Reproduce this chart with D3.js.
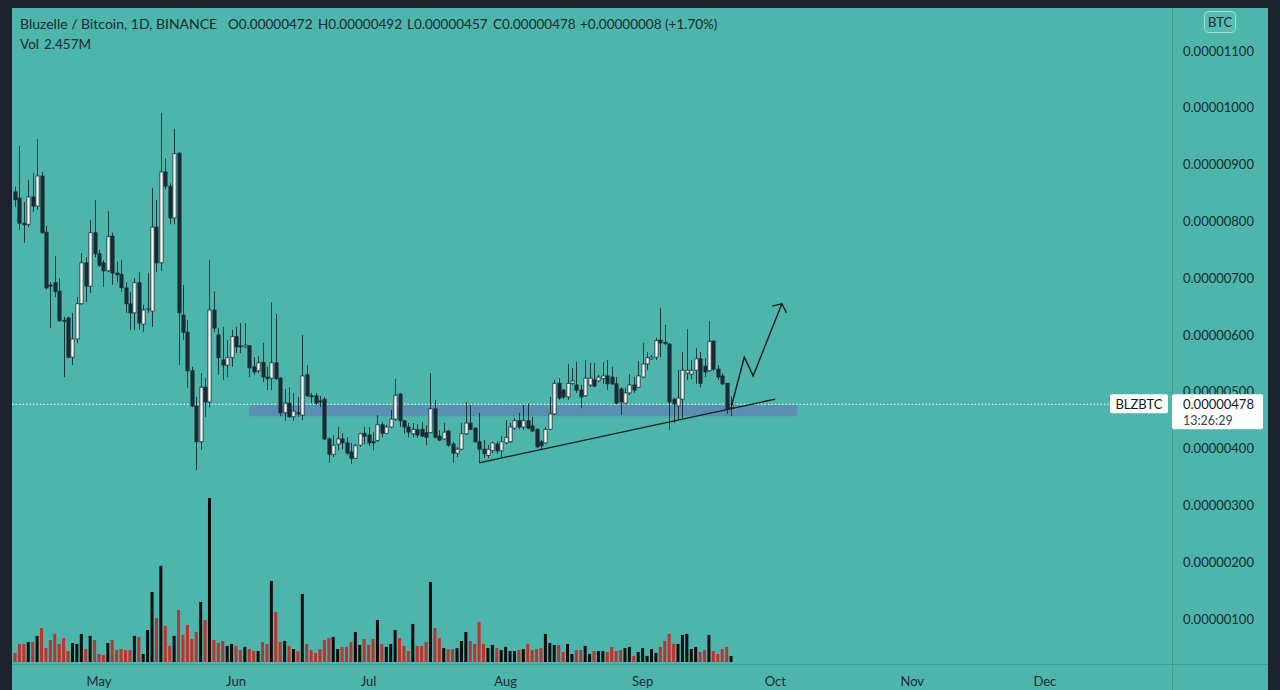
<!DOCTYPE html>
<html><head><meta charset="utf-8">
<script src="https://cdn.jsdelivr.net/npm/d3@7/dist/d3.min.js"></script>
<style>html,body{margin:0;padding:0;background:#1e222d;overflow:hidden}text{font-family:Lato,"Noto Sans",sans-serif}</style>
</head><body><svg id="c" width="1280" height="690"></svg>
<script>
// ---- data (prices in satoshi, 1e-8 BTC; volume in millions) ----
const firstDay = new Date(2021, 3, 12);
const opens = [852,841,797,795,843,827,880,781,688,692,677,626,630,561,593,655,727,686,780,743,727,713,774,709,707,683,655,639,692,619,645,642,790,727,887,862,806,920,635,605,537,475,412,508,482,644,600,556,547,560,597,581,579,581,544,537,552,526,524,551,524,463,480,456,463,459,530,493,493,484,487,417,390,408,417,410,394,383,406,427,424,412,414,442,427,438,452,496,449,438,426,433,434,428,428,470,422,417,431,408,392,399,426,445,436,412,399,388,397,408,396,410,412,436,449,438,449,440,434,412,410,434,461,515,503,491,515,512,503,493,512,521,519,523,528,526,514,505,480,498,512,508,526,549,558,561,591,587,584,487,475,487,533,531,538,558,545,537,589,540,528,515,472];
const highs = [861,933,834,873,885,945,887,792,693,739,700,632,632,639,667,744,737,803,838,750,732,818,780,729,732,693,676,700,711,653,709,859,838,991,911,867,963,922,688,626,544,491,533,524,732,677,612,614,591,609,614,621,621,582,561,563,586,544,658,637,526,505,508,498,491,600,547,498,498,493,491,420,424,438,427,420,410,408,427,438,438,429,459,447,442,468,523,498,450,445,445,443,447,441,533,486,433,445,433,412,403,445,482,477,438,463,415,406,412,412,422,450,445,454,463,477,479,456,436,415,438,491,521,524,505,549,542,552,512,556,551,551,530,552,556,544,526,508,507,531,526,554,586,570,565,595,648,618,586,489,538,570,610,556,577,570,559,625,591,547,533,515,492];
const lows = [825,785,762,790,817,820,778,680,612,667,623,526,559,547,586,653,658,674,737,720,685,711,688,693,676,639,609,609,609,605,639,614,711,713,857,795,795,547,591,507,473,362,398,456,473,605,530,521,526,544,568,568,577,526,530,533,517,503,503,521,457,449,454,449,456,450,491,480,477,473,415,375,385,397,399,389,373,382,403,408,405,397,412,420,426,436,449,438,426,420,420,419,420,406,427,418,413,415,403,375,385,397,424,433,410,375,383,383,392,391,385,408,410,433,434,433,434,429,401,399,408,433,459,486,487,486,512,498,471,491,508,508,517,514,503,512,478,459,478,494,498,507,524,538,556,556,561,582,433,445,450,454,521,522,514,508,526,535,537,521,512,461,457];
const closes = [838,797,794,843,827,880,780,683,686,677,625,624,561,593,655,727,686,780,743,723,713,773,709,706,683,655,639,692,621,644,647,790,727,887,862,806,919,639,605,537,475,412,508,482,644,612,560,547,560,597,579,580,582,542,535,551,526,523,551,523,463,480,456,466,462,528,493,492,480,483,417,390,406,417,410,392,383,405,426,422,410,411,442,427,438,452,494,449,438,429,434,424,422,420,470,420,415,429,406,392,399,426,445,434,412,399,391,399,410,396,412,420,438,449,438,449,436,431,403,405,434,461,515,489,491,515,519,503,491,524,524,510,526,528,514,514,480,482,498,512,503,528,549,560,561,590,586,586,482,479,489,538,538,538,558,515,535,589,540,526,514,470,478];
const volumes = [3.7,7.4,7.4,8.2,8.2,10.7,13.9,5.7,9.0,11.5,7.4,9.8,4.5,7.8,7.4,11.5,5.3,10.7,9.0,3.3,2.9,7.8,9.0,4.9,5.3,4.9,4.9,10.7,10.3,3.3,13.1,28.7,18.0,39.4,14.8,6.6,10.7,21.3,11.1,15.2,9.4,12.3,24.6,17.2,67.2,9.0,7.8,8.6,6.6,7.4,6.6,4.9,6.2,5.3,4.5,4.5,8.2,7.4,33.2,20.5,8.2,8.6,6.6,5.3,4.5,27.9,7.4,4.9,3.7,5.3,9.0,9.8,10.3,5.3,6.2,6.2,8.2,12.3,7.0,9.4,7.0,9.4,17.2,
  7.4,6.2,7.4,13.1,9.8,6.6,4.5,15.6,6.6,6.6,8.2,32.8,13.9,9.8,5.7,5.3,5.3,5.7,8.6,12.3,8.6,7.4,16.4,7.4,5.7,7.0,5.7,4.9,6.2,4.5,4.5,4.9,5.3,7.4,4.9,5.3,5.7,11.5,7.8,7.0,7.0,4.1,7.4,3.3,4.9,4.9,6.6,3.3,4.5,4.5,4.5,4.1,6.2,4.5,4.9,5.7,6.2,2.5,4.1,5.7,2.5,5.3,3.7,6.2,8.6,11.5,7.4,7.4,11.1,11.5,5.3,6.2,4.1,4.9,11.1,4.5,3.3,5.3,6.2,2.457];
const priceTicks = [100,200,300,400,500,600,700,800,900,1000,1100];
const monthTicks = ["2021-05-01","2021-06-01","2021-07-01","2021-08-01","2021-09-01","2021-10-01","2021-11-01","2021-12-01"];
const zoneDates = ["2021-06-04","2021-10-06"];
const zonePrices = [457,477];
const trendDates = ["2021-07-26","2021-10-01"];
const trendPrices = [375,487];
const arrowDates = ["2021-09-21","2021-09-24","2021-09-26","2021-10-02T12:00"];
const arrowPrices = [472,561,528,655];
const lastPrice = 478;
const headerParts = ["Bluzelle / Bitcoin, 1D, BINANCE","O0.00000472","H0.00000492","L0.00000457","C0.00000478","+0.00000008 (+1.70%)"];

// ---- chart ----
const svg = d3.select("#c");
const W = 1280, H = 690;
const L = 12, R = 1172, T = 8, B = 664;
const teal = "#4db5ab", dark = "#1b2a30";
const parse = s => new Date(s.length > 10 ? s : s + "T00:00");
const days = opens.map((_, i) => d3.timeDay.offset(firstDay, i));
const candles = days.map((d, i) => ({d, o: opens[i], h: highs[i], l: lows[i], c: closes[i], v: volumes[i]}));

const x = d3.scaleTime().domain([firstDay, new Date(2021, 11, 31)]).range([15, 15 + 4.42 * 263]);
const y = d3.scaleLinear().domain([0, 1100]).range([675.8, 51]);
const yv = d3.scaleLinear().domain([0, 67.2]).range([662, 498]);

svg.append("rect").attr("width", W).attr("height", H).attr("fill", "#1e222d");
svg.append("rect").attr("x", L).attr("y", T).attr("width", 1268 - L).attr("height", H - T).attr("fill", teal);

const defs = svg.append("defs");
defs.append("clipPath").attr("id", "plot").append("rect").attr("x", L).attr("y", T).attr("width", R - L).attr("height", B - T);

// separators
svg.append("line").attr("x1", R + 0.5).attr("x2", R + 0.5).attr("y1", T).attr("y2", H).attr("stroke", "#3e9d94").attr("stroke-width", 1);
svg.append("line").attr("x1", L).attr("x2", 1268).attr("y1", B + 0.5).attr("y2", B + 0.5).attr("stroke", "#3e9d94").attr("stroke-width", 1);

const plot = svg.append("g").attr("clip-path", "url(#plot)");

// zone
plot.append("rect")
  .attr("x", x(parse(zoneDates[0]))).attr("width", x(parse(zoneDates[1])) - x(parse(zoneDates[0])))
  .attr("y", y(zonePrices[1])).attr("height", y(zonePrices[0]) - y(zonePrices[1]))
  .attr("fill", "#5a8fb1");

// volume
const bw = 3;
plot.append("g").selectAll("rect").data(candles).join("rect")
  .attr("x", d => x(d.d) - bw / 2).attr("width", bw)
  .attr("y", d => yv(d.v)).attr("height", d => yv(0) - yv(d.v))
  .attr("fill", d => d.c >= d.o ? "#0d0d0d" : "#c0322d");

// current price dotted line
plot.append("line").attr("x1", L).attr("x2", 1110).attr("y1", y(lastPrice)).attr("y2", y(lastPrice))
  .attr("stroke", "#ffffff").attr("stroke-width", 1).attr("stroke-dasharray", "1.5,2");

// candles
const cg = plot.append("g");
cg.selectAll("line").data(candles).join("line")
  .attr("x1", d => Math.round(x(d.d)) + 0.5).attr("x2", d => Math.round(x(d.d)) + 0.5)
  .attr("y1", d => y(d.h)).attr("y2", d => y(d.l))
  .attr("stroke", "#163a3d").attr("stroke-width", 1);
cg.selectAll("rect").data(candles).join("rect")
  .attr("x", d => Math.round(x(d.d)) + 0.5 - 1.6).attr("width", 3.2)
  .attr("y", d => y(Math.max(d.o, d.c)))
  .attr("height", d => Math.max(1, y(Math.min(d.o, d.c)) - y(Math.max(d.o, d.c))))
  .attr("fill", d => d.c >= d.o ? "#ffffff" : "#1a2c33")
  .attr("stroke", "#1a2c33").attr("stroke-width", 0.8);

// trendline
plot.append("line")
  .attr("x1", x(parse(trendDates[0]))).attr("y1", y(trendPrices[0]))
  .attr("x2", x(parse(trendDates[1]))).attr("y2", y(trendPrices[1]))
  .attr("stroke", "#0f1a1c").attr("stroke-width", 1.3);

// arrow
const ap = arrowDates.map((s, i) => [x(parse(s)), y(arrowPrices[i])]);
plot.append("path").attr("d", d3.line()(ap)).attr("fill", "none").attr("stroke", "#0f1a1c").attr("stroke-width", 1.4);
{
  const [x1, y1] = ap[ap.length - 2], [x2, y2] = ap[ap.length - 1];
  const a = Math.atan2(y1 - y2, x1 - x2);
  const len = 10;
  const p1 = [x2 + len * Math.cos(a + 0.95), y2 + len * Math.sin(a + 0.95)];
  const p2 = [x2 + len * Math.cos(a - 0.85), y2 + len * Math.sin(a - 0.85)];
  plot.append("path").attr("d", d3.line()([p1, [x2, y2], p2])).attr("fill", "none").attr("stroke", "#0f1a1c").attr("stroke-width", 1.4);
}

// price axis
const fmt = v => (v * 1e-8).toFixed(8);
svg.append("g").selectAll("text").data(priceTicks).join("text")
  .attr("x", 1183).attr("y", d => y(d) + 4.5)
  .attr("font-size", 13).attr("fill", dark).text(fmt);

// time axis
svg.append("g").selectAll("text").data(monthTicks.map(parse)).join("text")
  .attr("x", d => x(d)).attr("y", 686).attr("text-anchor", "middle")
  .attr("font-size", 13).attr("fill", dark).text(d3.timeFormat("%b"));

// last price labels
const ly = y(lastPrice);
svg.append("rect").attr("x", 1110).attr("y", ly - 10).attr("width", 58).attr("height", 19).attr("rx", 2).attr("fill", "#ffffff");
svg.append("text").attr("x", 1139).attr("y", ly + 4.5).attr("text-anchor", "middle").attr("font-size", 13).attr("fill", "#131722").text("BLZBTC");
svg.append("rect").attr("x", R).attr("y", ly - 10).attr("width", 91).attr("height", 35).attr("rx", 2).attr("fill", "#ffffff");
svg.append("text").attr("x", 1183).attr("y", ly + 4.5).attr("font-size", 13).attr("fill", "#131722").text(fmt(lastPrice));
svg.append("text").attr("x", 1183).attr("y", ly + 21).attr("font-size", 12.5).attr("fill", "#3a4048").text("13:26:29");

// BTC badge
svg.append("rect").attr("x", 1204.5).attr("y", 11.5).attr("width", 31).attr("height", 21).attr("rx", 4)
  .attr("fill", "#55bdb2").attr("stroke", "#a6e3dc").attr("stroke-width", 1);
svg.append("text").attr("x", 1220).attr("y", 26.5).attr("text-anchor", "middle").attr("font-size", 13).attr("fill", dark).text("BTC");

// header
const hx = [20, 228, 318, 407, 493, 580];
svg.append("g").selectAll("text").data(headerParts).join("text")
  .attr("x", (d, i) => hx[i]).attr("y", 29).attr("font-size", (d, i) => i === 0 ? 14 : 13.5).attr("fill", dark).text(d => d);
svg.append("text").attr("x", 20).attr("y", 49).attr("font-size", 13.5).attr("fill", dark).text("Vol");
svg.append("text").attr("x", 44).attr("y", 49).attr("font-size", 13.5).attr("fill", dark).text("2.457M");
</script></body></html>
